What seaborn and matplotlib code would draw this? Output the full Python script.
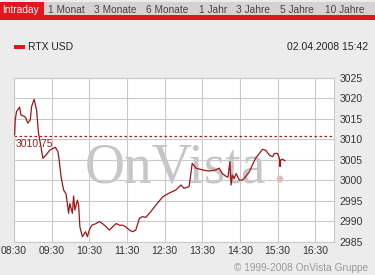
import matplotlib
matplotlib.use("Agg")
import matplotlib.pyplot as plt
import seaborn as sns
import pandas as pd
from matplotlib.patches import Rectangle

times = ["08:31", "08:32", "08:34", "08:39", "08:41", "08:47", "08:49", "08:52", "08:56", "08:58",
         "09:02", "09:06", "09:09", "09:13", "09:16", "09:21", "09:27", "09:32", "09:36", "09:40",
         "09:42", "09:45", "09:49", "09:53", "09:57", "09:59", "10:03", "10:05", "10:07", "10:11",
         "10:13", "10:15", "10:19", "10:24", "10:27", "10:30", "10:34", "10:41", "10:46", "10:51",
         "10:57", "11:02", "11:07", "11:13", "11:18", "11:23", "11:28", "11:34", "11:39", "11:44",
         "11:50", "11:55", "12:00", "12:08", "12:16", "12:27", "12:37", "12:48", "12:56", "13:01",
         "13:09", "13:12", "13:14", "13:20", "13:30", "13:41", "13:52", "13:57", "14:02", "14:08",
         "14:11", "14:14", "14:16", "14:18", "14:21", "14:24", "14:29", "14:34", "14:39", "14:45",
         "14:50", "14:55", "15:01", "15:06", "15:11", "15:17", "15:22", "15:25", "15:30", "15:33",
         "15:34", "15:35", "15:38", "15:42"]
values = [3011.1, 3014.8, 3016.8, 3017.9, 3016.0, 3015.6, 3015.2, 3014.0, 3014.8, 3018.0,
          3019.8, 3017.2, 3011.6, 3008.2, 3005.4, 3006.2, 3007.4, 3007.8, 3008.1, 3007.0,
          3005.0, 3000.9, 2997.7, 2996.7, 2992.0, 2994.4, 2992.0, 2996.2, 2992.8, 2995.2,
          2994.0, 2988.7, 2986.3, 2987.5, 2986.3, 2987.9, 2989.1, 2989.5, 2990.0, 2989.5,
          2988.7, 2987.9, 2988.7, 2989.5, 2989.1, 2989.1, 2988.7, 2987.9, 2987.5, 2987.9,
          2990.8, 2991.2, 2991.0, 2992.4, 2994.0, 2996.0, 2996.9, 2997.7, 2998.9, 2998.1,
          2998.5, 3001.8, 3004.2, 3003.0, 3002.6, 3002.3, 3002.6, 3003.0, 3001.7, 3001.0,
          3000.8, 3004.6, 2998.9, 3001.3, 3000.5, 3001.7, 3000.1, 3000.1, 3000.9, 3002.1,
          3003.8, 3005.4, 3006.6, 3007.6, 3007.4, 3006.2, 3005.8, 3006.6, 3006.6, 3005.4,
          3003.4, 3005.0, 3005.2, 3004.8]
x_ticks = ["08:30", "09:30", "10:30", "11:30", "12:30", "13:30", "14:30", "15:30", "16:30"]
y_ticks = [2985, 2990, 2995, 3000, 3005, 3010, 3015, 3020, 3025]
ref_value = 3010.75
tabs = ["Intraday", "1 Monat", "3 Monate", "6 Monate", "1 Jahr", "3 Jahre", "5 Jahre", "10 Jahre"]
series_name = "RTX USD"
stamp = "02.04.2008 15:42"
copyright_text = "\u00a9 1999-2008 OnVista Gruppe"


def to_hours(s):
    h, m = s.split(":")
    return int(h) + int(m) / 60.0


df = pd.DataFrame({"t": [to_hours(s) for s in times], "v": values})

sns.set_theme(style="white")
plt.rcParams["font.family"] = ["Liberation Sans", "DejaVu Sans"]

W, H = 375, 275
fig = plt.figure(figsize=(W / 100, H / 100), dpi=100)
bg = "#ECECEC"
fig.patch.set_facecolor(bg)

red = "#E0171B"


def fx(px):
    return px / W


def fy(py):
    return 1 - py / H


# header
fig.patches.append(Rectangle((0, fy(15)), 1, fy(2) - fy(15), transform=fig.transFigure,
                             facecolor="#D3D3D3", edgecolor="none", zorder=0))
fig.patches.append(Rectangle((0, fy(20)), 1, fy(15) - fy(20), transform=fig.transFigure,
                             facecolor=red, edgecolor="none", zorder=1))
fig.patches.append(Rectangle((0, fy(20)), fx(44), fy(2) - fy(20), transform=fig.transFigure,
                             facecolor=red, edgecolor="none", zorder=1))
tab_x = [2, 48, 94, 146, 199, 236, 280, 325]
for i, (lab, px) in enumerate(zip(tabs, tab_x)):
    fig.text(fx(px), fy(10), lab, fontsize=7.3, color="white" if i == 0 else "#444444",
             ha="left", va="center", zorder=3)

# legend row
fig.patches.append(Rectangle((fx(14), fy(49.5)), fx(11), fy(45) - fy(49.5), transform=fig.transFigure,
                             facecolor=red, edgecolor="none"))
fig.text(fx(28), fy(47.5), series_name, fontsize=7.5, color="#222222", ha="left", va="center")
fig.text(fx(368), fy(47.5), stamp, fontsize=7.5, color="#222222", ha="right", va="center")
fig.text(fx(368), fy(268), copyright_text, fontsize=7.3, color="#9A9A9A", ha="right", va="center")

# main axes
ax = fig.add_axes([fx(14), 1 - 242 / H, 320 / W, 164 / H])
ax.set_facecolor("white")
ax.set_xlim(8.5, 17.0)
ax.set_ylim(2985, 3025)
ax.set_xticks([to_hours(s) for s in x_ticks])
ax.set_xticklabels(x_ticks)
ax.set_yticks(y_ticks)
ax.set_yticklabels([str(v) for v in y_ticks])
ax.yaxis.tick_right()
ax.grid(True, color="#C9C9C9", linewidth=0.8, zorder=1)
ax.tick_params(axis="both", length=0, labelsize=7.5, labelcolor="#333333")
ax.tick_params(axis="x", pad=3)
ax.tick_params(axis="y", pad=4)
for s in ax.spines.values():
    s.set_color("#C9C9C9")
    s.set_linewidth(0.8)

# watermark
ax.text(0.506, 0.36, "OnVista", transform=ax.transAxes, fontsize=40, family="Liberation Serif",
        color="#C6C6C6", ha="center", va="baseline", zorder=0.5)
ax.text(0.808, 0.36, ".", transform=ax.transAxes, fontsize=40, family="Liberation Serif",
        color="#EBB5B5", ha="left", va="baseline", zorder=0.5)

ax.axhline(ref_value, color="#A01C1C", linestyle=(0, (2, 2)), linewidth=0.9, zorder=2)
ax.text(8.55, ref_value - 0.7, f"{ref_value:.2f}", fontsize=7.5, color="#A01C1C",
        ha="left", va="top", zorder=3)

sns.lineplot(data=df, x="t", y="v", ax=ax, color="#A01515", linewidth=0.9, zorder=3)
ax.set_xlabel("")
ax.set_ylabel("")

fig.savefig("out.png", dpi=100, facecolor=bg)
